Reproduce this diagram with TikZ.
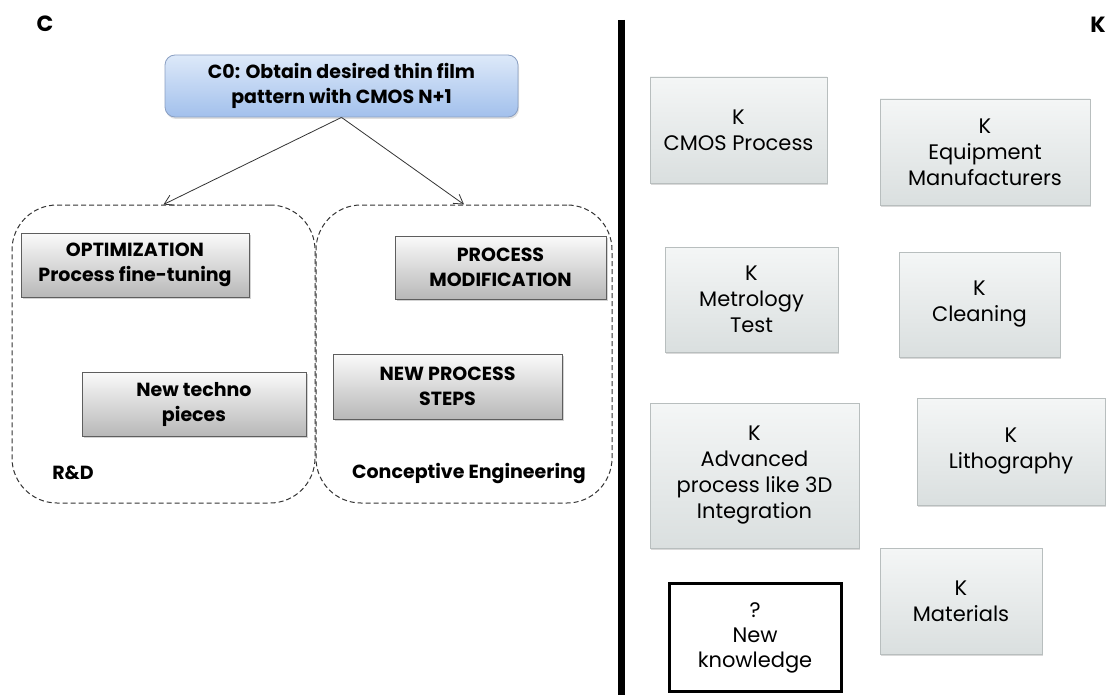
\documentclass[tikz,border=0pt]{standalone}
\usepackage{fontspec}
\setmainfont{Poppins}
\usetikzlibrary{shadows,arrows.meta}
\definecolor{ktop}{HTML}{F4F6F6}
\definecolor{kbot}{HTML}{DADFDF}
\definecolor{kborder}{HTML}{B8BEBE}
\definecolor{gtop}{HTML}{FAFAFA}
\definecolor{gbot}{HTML}{B8B8B8}
\definecolor{gborder}{HTML}{5E5E5E}
\definecolor{ctop}{HTML}{DDE9F9}
\definecolor{cbot}{HTML}{A2C0EC}
\definecolor{cborder}{HTML}{8A9FC2}
\begin{document}
\begin{tikzpicture}[x=1pt,y=-1pt,
  gbox/.style={draw=gborder, line width=0.8pt, top color=gtop, bottom color=gbot,
    drop shadow={shadow xshift=1.5pt,shadow yshift=-2pt,opacity=0.35},
    font=\bfseries\fontsize{19}{25}\selectfont, align=center, inner sep=0pt},
  kbox/.style={draw=kborder, line width=0.8pt, top color=ktop, bottom color=kbot,
    drop shadow={shadow xshift=1pt,shadow yshift=-2pt,opacity=0.3},
    font=\fontsize{21}{26}\selectfont, align=center, inner sep=0pt},
  newbox/.style={draw=black, line width=3pt, fill=white,
    font=\fontsize{21}{25}\selectfont, align=center, inner sep=0pt},
  cbox/.style={draw=cborder, line width=0.8pt, rounded corners=10pt, top color=ctop, bottom color=cbot,
    drop shadow={shadow xshift=1pt,shadow yshift=-2pt,opacity=0.25},
    font=\bfseries\fontsize{19}{25}\selectfont, align=center, inner sep=0pt},
  frame/.style={draw=black!80, dash pattern=on 5pt off 3pt, line width=1pt, rounded corners=45pt, inner sep=0pt},
  lbl/.style={font=\bfseries\fontsize{19}{24}\selectfont, inner sep=0pt},
  big/.style={font=\bfseries\fontsize{22}{26}\selectfont, inner sep=0pt},
  arr/.style={draw=black!80, line width=0.8pt, -{Straight Barb[length=9pt,width=11pt]}}
]
\useasboundingbox (0,0) rectangle (1107,695);

% headers
\node[big] (chead) at (45,24) {C};
\node[big] (khead) at (1098,25) {K};

% separator
\coordinate (septop) at (621.5,20);
\coordinate (sepbot) at (621.5,695);
\draw[line width=7pt] (septop) -- (sepbot);

% C side
\node[cbox, minimum width=353pt, minimum height=62pt] (c0) at (341.5,86)
  {C0: Obtain desired thin film\\ pattern with CMOS N+1};

\node[frame, minimum width=303pt, minimum height=298pt] (rd) at (163.5,354) {};
\node[frame, minimum width=296pt, minimum height=298pt] (ce) at (464,354) {};

\draw[arr] (c0.south) -- (rd.north);
\draw[arr] (c0.south) -- (ce.north);

\node[gbox, minimum width=228pt, minimum height=64pt] (opt) at (135,265)
  {OPTIMIZATION\\Process fine-tuning};
\node[gbox, minimum width=224pt, minimum height=64pt] (techno) at (194,404)
  {New techno\\pieces};
\node[gbox, minimum width=211pt, minimum height=63pt] (pmod) at (500.5,267.5)
  {PROCESS\\MODIFICATION};
\node[gbox, minimum width=229pt, minimum height=65pt] (nps) at (447.5,386.5)
  {NEW PROCESS\\STEPS};

\node[lbl] (rdl) at (73,473) {R\&D};
\node[lbl] (cel) at (469,473) {Conceptive Engineering};

% K side
\node[kbox, minimum width=177pt, minimum height=106pt] (cmos) at (738.5,130)
  {K\\CMOS Process};
\node[kbox, minimum width=210pt, minimum height=106pt] (equip) at (985,152)
  {K\\Equipment\\Manufacturers};
\node[kbox, minimum width=173pt, minimum height=105pt] (metro) at (751.5,299.5)
  {K\\Metrology\\Test};
\node[kbox, minimum width=161pt, minimum height=105pt] (clean) at (979.5,304.5)
  {K\\Cleaning};
\node[kbox, minimum width=209pt, minimum height=145pt] (adv) at (754.5,475.5)
  {K\\Advanced\\process like 3D\\Integration};
\node[kbox, minimum width=188pt, minimum height=107pt] (litho) at (1011,451.5)
  {K\\Lithography};
\node[kbox, minimum width=162pt, minimum height=106pt] (mat) at (961,601)
  {K\\Materials};
\node[newbox, minimum width=172pt, minimum height=108pt] (newk) at (755,637.5)
  {?\\New\\knowledge};
\end{tikzpicture}
\end{document}
